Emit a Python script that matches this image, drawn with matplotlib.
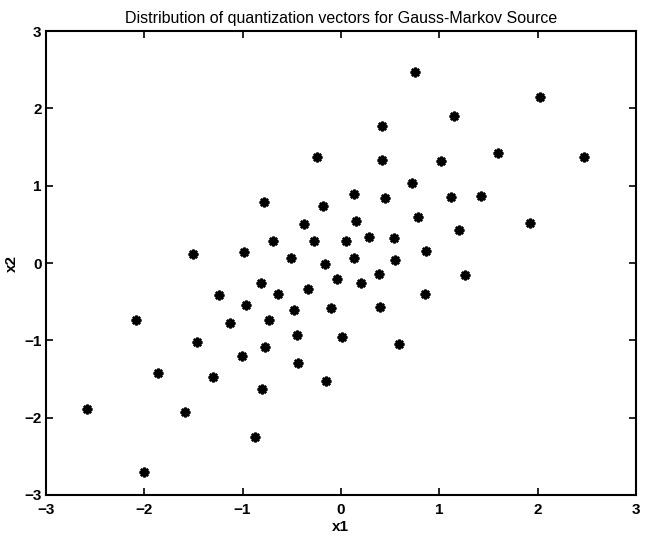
from matplotlib import pyplot as plt
import numpy as np

# codebook vectors (x1, x2)
x1 = [0.75, 2.02, 1.15, 0.42, -0.24, 0.42, 1.02, 1.60, 2.47, 0.72,
      0.13, 0.45, 1.12, 1.42, -0.78, -0.18, -0.38, 0.15, 0.78, 1.92,
      1.20, -0.69, -0.27, 0.05, 0.29, 0.54, -1.50, -0.98, -0.51, 0.13,
      0.55, 0.87, -0.16,
      -0.81, -0.04, 0.20, 0.39, 1.26, -1.24, -0.64, -0.33, -0.96, 0.86,
      -0.48, -0.10, 0.40, -2.08, -0.73, -1.13, -0.45, 0.01, -1.46, 0.59,
      -0.77, -1.01, -0.44, -1.86, -1.30, -0.15, -0.80, -2.58, -1.58, -0.87,
      -2.00]
x2 = [2.47, 2.15, 1.90, 1.78, 1.37, 1.34, 1.32, 1.43, 1.37, 1.03,
      0.89, 0.84, 0.85, 0.87, 0.79, 0.74, 0.50, 0.54, 0.60, 0.52,
      0.43, 0.29, 0.28, 0.29, 0.34, 0.33, 0.12, 0.14, 0.07, 0.065,
      0.04, 0.15, -0.01,
      -0.26, -0.20, -0.26, -0.14, -0.15, -0.41, -0.40, -0.34, -0.54, -0.40,
      -0.61, -0.58, -0.57, -0.73, -0.74, -0.78, -0.93, -0.95, -1.02, -1.05,
      -1.08, -1.20, -1.29, -1.42, -1.47, -1.53, -1.63, -1.89, -1.93, -2.25,
      -2.70]

ticks = [-3, -2, -1, 0, 1, 2, 3]


def main():
    plt.rcParams['font.family'] = ['Liberation Sans', 'DejaVu Sans']
    fig = plt.figure(figsize=(6.45, 5.38), dpi=100)
    ax = fig.add_axes([0.071, 0.080, 0.915, 0.862])

    ax.plot(x1, x2, linestyle='none', marker=(8, 2, 0), markersize=7,
            markeredgewidth=1.8, color='black')

    ax.set_xlim(-3, 3)
    ax.set_ylim(-3, 3)
    ax.set_xticks(ticks)
    ax.set_yticks(ticks)
    ax.tick_params(direction='in', top=True, right=True, length=5,
                   width=1.2, labelsize=11)
    ax.tick_params(axis='x', pad=6)
    ax.tick_params(axis='y', pad=3)
    for lab in ax.get_xticklabels() + ax.get_yticklabels():
        lab.set_fontweight('bold')
    for sp in ax.spines.values():
        sp.set_linewidth(1.5)

    ax.set_xlabel('x1', fontsize=11, fontweight='bold', labelpad=2)
    ax.set_ylabel('x2', fontsize=11, fontweight='bold', labelpad=4)
    ax.set_title('Distribution of quantization vectors for Gauss-Markov Source',
                 fontsize=11.5, pad=6)

    fig.savefig('out.png', dpi=100, facecolor='white')


main()
